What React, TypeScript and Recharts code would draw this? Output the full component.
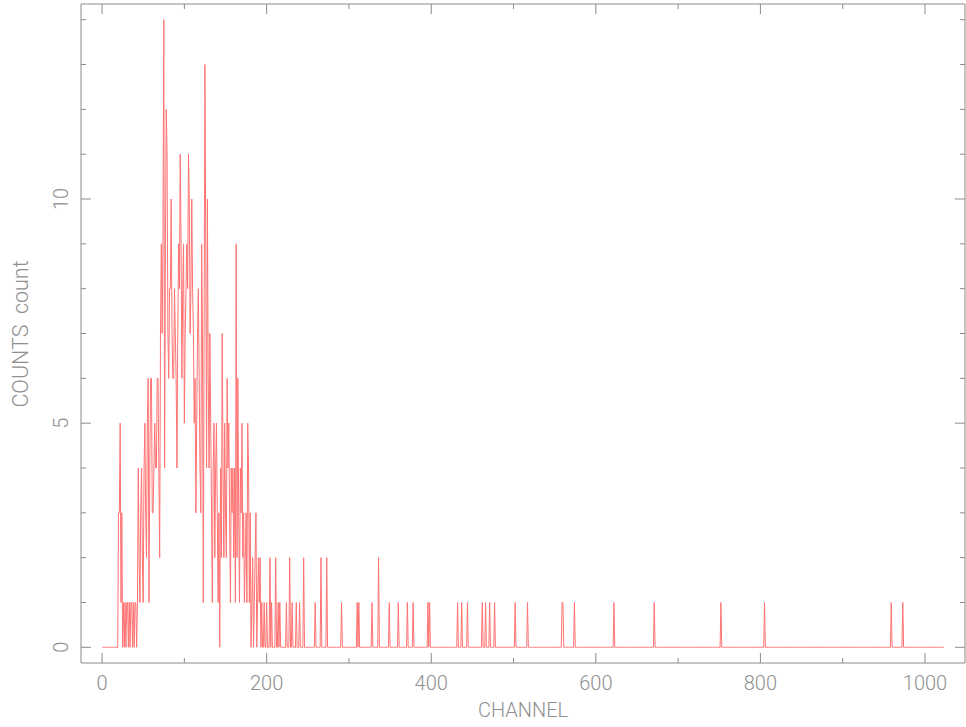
import { Line, LineChart, XAxis, YAxis } from 'recharts';

// counts per channel, channels 18..209 (the main bump)
const peakStart = 18;
const peakCounts = [
  0, 0, 3, 3, 5, 1, 3, 0, 1, 0,
  1, 0, 1, 1, 0, 1, 0, 1, 1, 0,
  1, 0, 1, 1, 0, 1, 4, 2, 1, 3,
  4, 2, 1, 4, 5, 3, 2, 5, 6, 1,
  4, 6, 6, 3, 3, 4, 5, 4, 4, 6,
  6, 4, 2, 7, 9, 7, 9, 14, 4, 9,
  12, 11, 7, 6, 8, 8, 10, 7, 6, 6,
  8, 7, 6, 4, 7, 9, 8, 11, 9, 6,
  8, 9, 5, 7, 8, 9, 8, 11, 10, 7,
  8, 10, 8, 7, 5, 6, 3, 5, 7, 8,
  6, 4, 3, 9, 7, 1, 7, 13, 9, 4,
  10, 6, 4, 7, 5, 3, 1, 4, 5, 2,
  4, 5, 3, 1, 3, 0, 4, 2, 7, 4,
  2, 5, 3, 2, 6, 4, 5, 3, 1, 4,
  3, 4, 2, 4, 1, 9, 2, 6, 3, 1,
  4, 3, 5, 2, 3, 1, 2, 3, 1, 5,
  4, 1, 3, 0, 1, 2, 0, 1, 2, 3,
  0, 1, 2, 1, 2, 0, 1, 0, 0, 1,
  0, 0, 1, 0, 0, 0, 2, 0, 1, 0, 0, 0,
];

// isolated hits further out
const tailChannels = [
  211, 214, 216, 224, 228, 231, 236, 240, 245, 259, 266, 273, 291, 310, 312,
  328, 336, 349, 360, 371, 378, 396, 398, 432, 437, 444, 462, 466, 471, 477,
  502, 517, 559, 560, 574, 622, 671, 752, 805, 959, 973,
];
const tailCounts = [
  2, 1, 1, 1, 2, 1, 1, 1, 2, 1, 2, 2, 1, 1, 1,
  1, 2, 1, 1, 1, 1, 1, 1, 1, 1, 1, 1, 1, 1, 1,
  1, 1, 1, 1, 1, 1, 1, 1, 1, 1, 1,
];

const channelCount = 1024;
const xMajorTicks = [0, 200, 400, 600, 800, 1000];
const xMinorTicks = [100, 300, 500, 700, 900];
const yMajorTicks = [0, 5, 10];
const yMinorTicks = [1, 2, 3, 4, 6, 7, 8, 9, 11, 12, 13, 14];

const data = Array.from({ length: channelCount }, (_, channel) => {
  let counts = 0;
  const p = channel - peakStart;
  if (p >= 0 && p < peakCounts.length) counts = peakCounts[p];
  const t = tailChannels.indexOf(channel);
  if (t >= 0) counts = tailCounts[t];
  return { channel, counts };
});

const AXIS = '#8a8a8a';
const TEXT = '#8f8f8f';
const FONT = 'Roboto, "DejaVu Sans", sans-serif';
const MAJOR = 10;
const MINOR = 5;

const XTick = (props: any) => {
  const { x, y, payload, dir, showLabel } = props;
  const major = xMajorTicks.includes(payload.value);
  const len = major ? MAJOR : MINOR;
  return (
    <g>
      <line x1={x} y1={y} x2={x} y2={y + dir * len} stroke={AXIS} strokeWidth={1} />
      {showLabel && major && (
        <text
          x={x}
          y={y + 20}
          textAnchor="middle"
          dominantBaseline="central"
          fill={TEXT}
          fontSize={20}
          fontWeight={300}
          fontFamily={FONT}
        >
          {payload.value}
        </text>
      )}
    </g>
  );
};

const YTick = (props: any) => {
  const { x, y, payload, dir, showLabel } = props;
  const major = yMajorTicks.includes(payload.value);
  const len = major ? MAJOR : MINOR;
  const lx = x - 20;
  return (
    <g>
      <line x1={x} y1={y} x2={x + dir * len} y2={y} stroke={AXIS} strokeWidth={1} />
      {showLabel && major && (
        <text
          x={lx}
          y={y}
          transform={`rotate(-90 ${lx} ${y})`}
          textAnchor="middle"
          dominantBaseline="central"
          fill={TEXT}
          fontSize={20}
          fontWeight={300}
          fontFamily={FONT}
        >
          {payload.value}
        </text>
      )}
    </g>
  );
};

const xDomain: [number, number] = [-25.6, 1048.6];
const yDomain: [number, number] = [-0.35, 14.35];
const xTicks = [...xMajorTicks, ...xMinorTicks].sort((a, b) => a - b);
const yTicks = [...yMajorTicks, ...yMinorTicks].sort((a, b) => a - b);

export default function App() {
  return (
    <div style={{ position: 'absolute', left: 0, top: 0, width: 966, height: 727, background: '#fff' }}>
      <LineChart width={966} height={727} data={data} margin={{ top: 0, right: 0, bottom: 0, left: 0 }}>
        <XAxis
          dataKey="channel"
          type="number"
          domain={xDomain}
          allowDataOverflow
          ticks={xTicks}
          interval={0}
          height={64}
          tickSize={0}
          tickMargin={0}
          tickLine={false}
          axisLine={{ stroke: AXIS }}
          tick={(p: any) => <XTick {...p} dir={-1} showLabel />}
          label={{
            content: () => (
              <text
                x={523}
                y={710}
                textAnchor="middle"
                dominantBaseline="central"
                fill={TEXT}
                fontSize={20}
                fontWeight={300}
                fontFamily={FONT}
              >
                CHANNEL
              </text>
            ),
          }}
        />
        <XAxis
          xAxisId="top"
          orientation="top"
          dataKey="channel"
          type="number"
          domain={xDomain}
          allowDataOverflow
          ticks={xTicks}
          interval={0}
          height={4}
          tickSize={0}
          tickMargin={0}
          tickLine={false}
          axisLine={{ stroke: AXIS }}
          tick={(p: any) => <XTick {...p} dir={1} showLabel={false} />}
        />
        <YAxis
          type="number"
          domain={yDomain}
          allowDataOverflow
          ticks={yTicks}
          interval={0}
          width={81}
          tickSize={0}
          tickMargin={0}
          tickLine={false}
          axisLine={{ stroke: AXIS }}
          tick={(p: any) => <YTick {...p} dir={1} showLabel />}
          label={{
            content: () => (
              <text
                x={20}
                y={334}
                transform="rotate(-90 20 334)"
                textAnchor="middle"
                dominantBaseline="central"
                fill={TEXT}
                fontSize={21.5}
                fontWeight={300}
                fontFamily={FONT}
              >
                {'COUNTS\u00a0\u00a0count'}
              </text>
            ),
          }}
        />
        <YAxis
          yAxisId="right"
          orientation="right"
          type="number"
          domain={yDomain}
          allowDataOverflow
          ticks={yTicks}
          interval={0}
          width={1}
          tickSize={0}
          tickMargin={0}
          tickLine={false}
          axisLine={{ stroke: AXIS }}
          tick={(p: any) => <YTick {...p} dir={-1} showLabel={false} />}
        />
        <Line
          type="linear"
          dataKey="counts"
          stroke="#ff7373"
          strokeWidth={1}
          dot={false}
          activeDot={false}
          isAnimationActive={false}
        />
      </LineChart>
    </div>
  );
}
